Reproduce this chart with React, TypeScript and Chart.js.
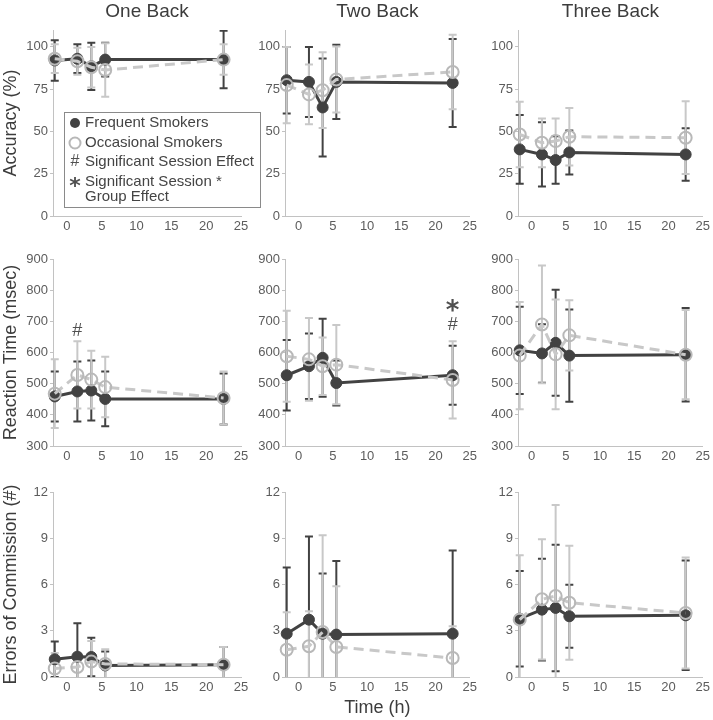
import React, { useEffect, useRef } from 'react';
import { Chart, registerables } from 'chart.js';

Chart.register(...registerables);

const FONT = "'Liberation Sans', Arial, Helvetica, sans-serif";
const DARK = '#424242';
const LIGHT = '#c8c8c8';
const LIGHT_RING = '#b8b8b8';
const AXIS = '#c2c2c2';
const TICK_TEXT = '#5c5c5c';
const TEXT = '#3c3c3c';

// ---------- data ----------
const hours = [-1.75, 1.5, 3.5, 5.5, 22.5];

const columnTitles = ['One Back', 'Two Back', 'Three Back'];
const rowTitles = ['Accuracy (%)', 'Reaction Time (msec)', 'Errors of Commission (#)'];
const xTitle = 'Time (h)';

const xTicks = [0, 5, 10, 15, 20, 25];
const accTicks = [0, 25, 50, 75, 100];
const rtTicks = [300, 400, 500, 600, 700, 800, 900];
const errTicks = [0, 3, 6, 9, 12];

// Accuracy (%)
const oneAccFreq = [92, 93, 88.5, 92.5, 92.5];
const oneAccFreqSD = [12, 8.5, 14, 10, 17];
const oneAccOcc = [93, 91.5, 88, 86.3, 92.5];
const oneAccOccSD = [8.5, 8, 12, 15.8, 9];

const twoAccFreq = [80.3, 79.3, 64.2, 79.3, 78.7];
const twoAccFreqSD = [19.7, 20.7, 29, 22, 26];
const twoAccOcc = [77.4, 71.9, 74.4, 80.7, 85.2];
const twoAccOccSD = [22.6, 17.7, 22.4, 19.5, 22];

const threeAccFreq = [39.4, 36.4, 33.1, 37.6, 36.4];
const threeAccFreqSD = [20.3, 19, 14, 13, 15.5];
const threeAccOcc = [48.2, 43.3, 44.3, 46.9, 46.3];
const threeAccOccSD = [19.4, 14.4, 13.4, 17, 21.5];

// Reaction time (msec)
const oneRtFreq = [459, 475, 478, 451, 451];
const oneRtFreqSD = [80, 96, 96, 88, 82];
const oneRtOcc = [468, 528, 513, 489, 454];
const oneRtOccSD = [110, 108, 93, 97, 85];

const twoRtFreq = [527, 556, 583, 502, 527];
const twoRtFreqSD = [113, 105, 125, 72, 95];
const twoRtOcc = [588, 578, 556, 561, 512];
const twoRtOccSD = [146, 133, 92, 127, 124];

const threeRtFreq = [607, 597, 631, 590, 593];
const threeRtFreqSD = [140, 94, 170, 148, 150];
const threeRtOcc = [590, 690, 594, 655, 593];
const threeRtOccSD = [172, 189, 176, 113, 143];

// Errors of commission (#)
const oneErrFreq = [1.15, 1.32, 1.3, 0.75, 0.8];
const oneErrFreqSD = [1.15, 2.16, 1.25, 0.9, 1.15];
const oneErrOcc = [0.55, 0.65, 1.0, 0.85, 0.8];
const oneErrOccSD = [1.0, 0.9, 1.34, 0.95, 1.15];

const twoErrFreq = [2.81, 3.72, 2.81, 2.75, 2.81];
const twoErrFreqSD = [4.3, 5.4, 3.9, 4.77, 5.4];
const twoErrOcc = [1.77, 1.99, 2.92, 1.95, 1.23];
const twoErrOccSD = [2.43, 2.27, 6.27, 3.93, 2.07];

const threeErrFreq = [3.78, 4.37, 4.48, 3.94, 4.0];
const threeErrFreqSD = [3.1, 3.3, 4.1, 2.05, 3.55];
const threeErrOcc = [3.72, 5.04, 5.25, 4.82, 4.15];
const threeErrOccSD = [4.17, 3.9, 5.9, 3.7, 3.6];

const legendLabels = ['Frequent Smokers', 'Occasional Smokers', 'Significant Session Effect', 'Significant Session *', 'Group Effect'];

// significance marks: panel index, hour, value
const markPanels = [3, 4, 4];
const markHours = [1.5, 22.5, 22.5];
const markValues = [670, 746, 689];
const markTexts = ['#', '*', '#'];

// ---------- panel definitions ----------
const rowScales = [
  { min: 0, max: 110, ticks: accTicks },
  { min: 300, max: 900, ticks: rtTicks },
  { min: 0, max: 12, ticks: errTicks },
];

const panelData = [
  [oneAccFreq, oneAccFreqSD, oneAccOcc, oneAccOccSD],
  [twoAccFreq, twoAccFreqSD, twoAccOcc, twoAccOccSD],
  [threeAccFreq, threeAccFreqSD, threeAccOcc, threeAccOccSD],
  [oneRtFreq, oneRtFreqSD, oneRtOcc, oneRtOccSD],
  [twoRtFreq, twoRtFreqSD, twoRtOcc, twoRtOccSD],
  [threeRtFreq, threeRtFreqSD, threeRtOcc, threeRtOccSD],
  [oneErrFreq, oneErrFreqSD, oneErrOcc, oneErrOccSD],
  [twoErrFreq, twoErrFreqSD, twoErrOcc, twoErrOccSD],
  [threeErrFreq, threeErrFreqSD, threeErrOcc, threeErrOccSD],
];

// layout boxes (canvas placement)
const colBox = [
  { left: 0, width: 262, yW: 53, padR: 21 },
  { left: 250, width: 230, yW: 35, padR: 8 },
  { left: 480, width: 233, yW: 38, padR: 6 },
];
const rowBox = [
  { top: 0, height: 240, padT: 30, xH: 24 },
  { top: 240, height: 230, padT: 19, xH: 24 },
  { top: 470, height: 250, padT: 22, xH: 43 },
];

function drawBars(ctx: CanvasRenderingContext2D, chart: any, mean: number[], sd: number[], color: string, width: number) {
  const xs = chart.scales.x;
  const ys = chart.scales.y;
  ctx.strokeStyle = color;
  ctx.lineWidth = width;
  const cap = 4;
  for (let i = 0; i < hours.length; i++) {
    const x = xs.getPixelForValue(hours[i]);
    const yT = ys.getPixelForValue(mean[i] + sd[i]);
    const yB = ys.getPixelForValue(mean[i] - sd[i]);
    ctx.beginPath();
    ctx.moveTo(x, yT);
    ctx.lineTo(x, yB);
    ctx.moveTo(x - cap, yT);
    ctx.lineTo(x + cap, yT);
    ctx.moveTo(x - cap, yB);
    ctx.lineTo(x + cap, yB);
    ctx.stroke();
  }
}

function drawStar(ctx: CanvasRenderingContext2D, x: number, y: number, size: number) {
  ctx.font = `bold ${size}px 'DejaVu Sans', ${FONT}`;
  ctx.textAlign = 'center';
  ctx.textBaseline = 'middle';
  ctx.fillText('*', x, y + size * 0.22);
}

function PanelChart({ index }: { index: number }) {
  const ref = useRef<HTMLCanvasElement>(null);
  const row = Math.floor(index / 3);
  const col = index % 3;
  const cb = colBox[col];
  const rb = rowBox[row];

  useEffect(() => {
    const [freq, freqSD, occ, occSD] = panelData[index];
    const rs = rowScales[row];

    const errorBars = {
      id: 'errorBars',
      beforeDatasetsDraw(chart: any) {
        const ctx = chart.ctx;
        const a = chart.chartArea;
        ctx.save();
        ctx.beginPath();
        ctx.rect(a.left - 12, a.top, a.right - a.left + 24, a.bottom - a.top);
        ctx.clip();
        drawBars(ctx, chart, freq, freqSD, DARK, 2);
        drawBars(ctx, chart, occ, occSD, LIGHT, 2);
        ctx.restore();
      },
    };

    const extras = {
      id: 'extras',
      afterDraw(chart: any) {
        const ctx = chart.ctx;
        const a = chart.chartArea;
        ctx.save();
        if (row === 0) {
          ctx.fillStyle = TEXT;
          ctx.font = `19px ${FONT}`;
          ctx.textAlign = 'center';
          ctx.textBaseline = 'alphabetic';
          ctx.fillText(columnTitles[col], (a.left + a.right) / 2, 16.5);
        }
        // significance marks
        for (let k = 0; k < markPanels.length; k++) {
          if (markPanels[k] !== index) continue;
          const x = chart.scales.x.getPixelForValue(markHours[k]);
          const y = chart.scales.y.getPixelForValue(markValues[k]);
          ctx.fillStyle = '#505050';
          if (markTexts[k] === '*') {
            drawStar(ctx, x, y, 26);
          } else {
            ctx.font = `18px ${FONT}`;
            ctx.textAlign = 'center';
            ctx.textBaseline = 'middle';
            ctx.fillText(markTexts[k], x, y);
          }
        }
        if (index === 0) {
          // legend box
          ctx.strokeStyle = '#8a8a8a';
          ctx.lineWidth = 1;
          ctx.strokeRect(64.5, 112.5, 196, 95);
          const mx = 75;
          const tx = 85;
          const ys = [123, 143, 162, 182, 197];
          ctx.fillStyle = DARK;
          ctx.beginPath();
          ctx.arc(mx, ys[0], 5, 0, Math.PI * 2);
          ctx.fill();
          ctx.strokeStyle = LIGHT_RING;
          ctx.lineWidth = 2;
          ctx.beginPath();
          ctx.arc(mx, ys[1], 5.5, 0, Math.PI * 2);
          ctx.stroke();
          ctx.fillStyle = '#505050';
          ctx.font = `16px ${FONT}`;
          ctx.textAlign = 'center';
          ctx.textBaseline = 'middle';
          ctx.fillText('#', mx, ys[2]);
          drawStar(ctx, mx, ys[3], 22);
          ctx.fillStyle = '#444';
          ctx.font = `15px ${FONT}`;
          ctx.textAlign = 'left';
          ctx.textBaseline = 'middle';
          for (let k = 0; k < legendLabels.length; k++) {
            ctx.fillText(legendLabels[k], tx, ys[k]);
          }
        }
        ctx.restore();
      },
    };

    const tickFont = { family: FONT, size: 13 };

    const chart = new Chart(ref.current as HTMLCanvasElement, {
      type: 'line',
      data: {
        datasets: [
          {
            label: 'Occasional Smokers',
            data: hours.map((h, i) => ({ x: h, y: occ[i] })),
            borderColor: LIGHT,
            borderWidth: 3,
            borderDash: [10, 6],
            pointRadius: 6,
            pointBorderWidth: 2,
            pointBorderColor: LIGHT_RING,
            pointBackgroundColor: 'rgba(255,255,255,0)',
            tension: 0,
            clip: false,
          } as any,
          {
            label: 'Frequent Smokers',
            data: hours.map((h, i) => ({ x: h, y: freq[i] })),
            borderColor: DARK,
            borderWidth: 3,
            pointRadius: 5.5,
            pointBorderWidth: 1,
            pointBorderColor: DARK,
            pointBackgroundColor: DARK,
            tension: 0,
            clip: false,
          } as any,
        ],
      },
      options: {
        animation: false,
        responsive: false,
        maintainAspectRatio: false,
        devicePixelRatio: 1,
        events: [],
        layout: { padding: { left: 0, right: cb.padR, top: rb.padT, bottom: 0 } },
        plugins: {
          legend: { display: false },
          title: { display: false },
          tooltip: { enabled: false },
        },
        scales: {
          x: {
            type: 'linear',
            min: -2,
            max: 25,
            afterBuildTicks: (s: any) => {
              s.ticks = xTicks.map((v) => ({ value: v }));
            },
            afterFit: (s: any) => {
              s.height = rb.xH;
            },
            ticks: { color: TICK_TEXT, font: tickFont, padding: 3, maxRotation: 0, autoSkip: false },
            grid: { display: true, drawOnChartArea: false, drawTicks: false, color: AXIS },
            border: { display: true, color: AXIS, width: 1 },
            title: {
              display: row === 2 && col === 1,
              text: xTitle,
              color: TEXT,
              font: { family: FONT, size: 18 },
              padding: { top: 0, bottom: 1 },
            },
          },
          y: {
            type: 'linear',
            min: rs.min,
            max: rs.max,
            afterBuildTicks: (s: any) => {
              s.ticks = rs.ticks.map((v) => ({ value: v }));
            },
            afterFit: (s: any) => {
              s.width = cb.yW;
            },
            ticks: { color: TICK_TEXT, font: tickFont, padding: 2, autoSkip: false },
            grid: { display: true, drawOnChartArea: false, drawTicks: true, tickLength: 3, color: AXIS },
            border: { display: true, color: AXIS, width: 1 },
            title: {
              display: col === 0,
              text: rowTitles[row],
              color: TEXT,
              font: { family: FONT, size: 18 },
              padding: { top: 0, bottom: 0 },
            },
          },
        },
      } as any,
      plugins: [errorBars, extras],
    });
    return () => chart.destroy();
  }, [index]);

  return (
    <canvas
      ref={ref}
      width={cb.width}
      height={rb.height}
      style={{
        position: 'absolute',
        left: cb.left + 'px',
        top: rb.top + 'px',
        width: cb.width + 'px',
        height: rb.height + 'px',
      }}
    />
  );
}

export default function App() {
  return (
    <div
      style={{
        position: 'absolute',
        left: 0,
        top: 0,
        width: '713px',
        height: '720px',
        background: '#ffffff',
        overflow: 'hidden',
      }}
    >
      {panelData.map((_, i) => (
        <PanelChart key={i} index={i} />
      ))}
    </div>
  );
}
